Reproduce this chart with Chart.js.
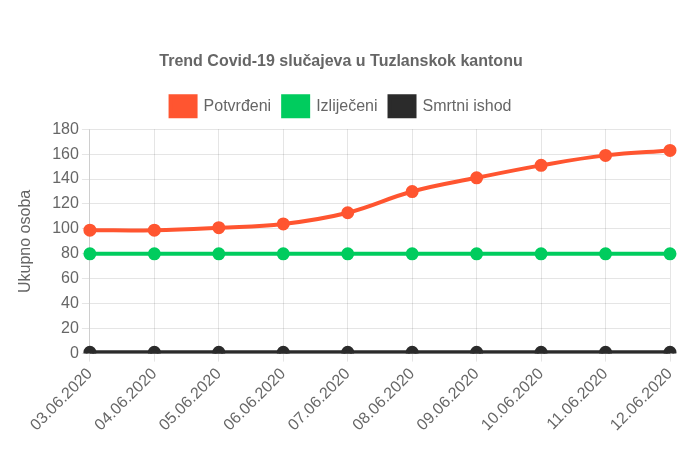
<!DOCTYPE html>
<html>
<head>
<meta charset="utf-8">
<script src="https://cdn.jsdelivr.net/npm/chart.js@4.4.0/dist/chart.umd.min.js"></script>
<style>
    html, body { margin: 0; padding: 0; overflow: hidden; background: #fff; }
    #wrap { width: 700px; height: 485px; position: relative; }
</style>
</head>
<body>
<div id="wrap"><canvas id="chart"></canvas></div>
<script>
const dates = ['03.06.2020', '04.06.2020', '05.06.2020', '06.06.2020', '07.06.2020',
    '08.06.2020', '09.06.2020', '10.06.2020', '11.06.2020', '12.06.2020'];
const potvrdeni = [99, 99, 101, 104, 113, 130, 141, 151, 159, 163];
const izlijeceni = [80, 80, 80, 80, 80, 80, 80, 80, 80, 80];
const smrtni = [1, 1, 1, 1, 1, 1, 1, 1, 1, 1];
const yTicks = [0, 20, 40, 60, 80, 100, 120, 140, 160, 180];

Chart.defaults.font.family = "'Liberation Sans', Arial, sans-serif";
Chart.defaults.color = '#666';

function series(label, data, color) {
    return {
        label: label,
        data: data,
        borderColor: color,
        backgroundColor: color,
        pointBackgroundColor: color,
        pointBorderColor: color,
        borderWidth: 4,
        pointRadius: 4.5,
        tension: 0.4,
        fill: false
    };
}

// a bit more room under the legend
const legendGap = {
    id: 'legendGap',
    beforeInit(chart) {
        const fit = chart.legend.fit;
        chart.legend.fit = function () {
            fit.bind(chart.legend)();
            this.height += 3;
        };
    }
};

const ctx = document.getElementById('chart').getContext('2d');
const chart = new Chart(ctx, {
    type: 'line',
    data: {
        labels: dates,
        datasets: [
            series('Potvrđeni', potvrdeni, '#ff5530'),
            series('Izliječeni', izlijeceni, '#00cc5e'),
            series('Smrtni ishod', smrtni, '#2b2b2b')
        ]
    },
    options: {
        responsive: true,
        maintainAspectRatio: false,
        animation: false,
        layout: { padding: { top: 42, right: 30, left: 12, bottom: 0 } },
        plugins: {
            title: {
                display: true,
                text: 'Trend Covid-19 slučajeva u Tuzlanskok kantonu',
                font: { size: 16, weight: 'bold' },
                padding: { top: 10, bottom: 13 }
            },
            legend: {
                labels: {
                    boxWidth: 25,
                    boxHeight: 20,
                    font: { size: 16 },
                    padding: 12
                }
            }
        },
        scales: {
            x: {
                ticks: { font: { size: 16 }, maxRotation: 45, minRotation: 45 },
                title: { display: true, text: 'Datum', font: { size: 16 }, padding: { top: 24, bottom: 4 } }
            },
            y: {
                min: 0,
                max: 180,
                afterBuildTicks: axis => { axis.ticks = yTicks.map(v => ({ value: v })); },
                ticks: { font: { size: 16 } },
                title: { display: true, text: 'Ukupno osoba', font: { size: 16 }, padding: { top: 4, bottom: 14 } }
            }
        }
    },
    plugins: [legendGap]
});
</script>
</body>
</html>
